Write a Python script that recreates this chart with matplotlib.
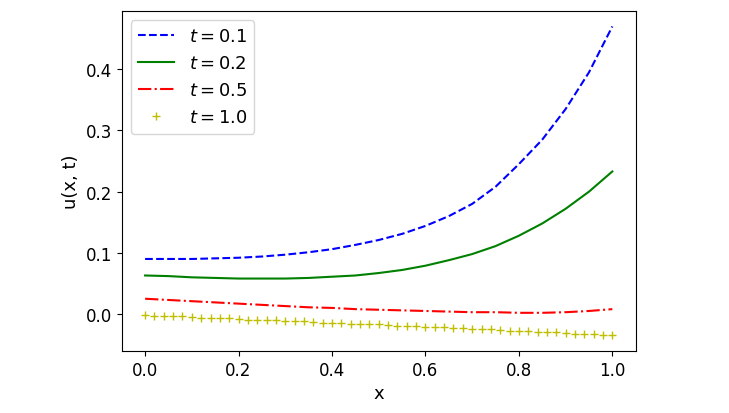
import matplotlib.pyplot as plt

# values
x = [i / 20 for i in range(21)]
u_01 = [0.090, 0.090, 0.090, 0.091, 0.092, 0.094, 0.097, 0.101, 0.106, 0.113, 0.121,
        0.131, 0.144, 0.160, 0.180, 0.208, 0.245, 0.285, 0.335, 0.395, 0.470]
u_02 = [0.063, 0.062, 0.060, 0.059, 0.058, 0.058, 0.058, 0.059, 0.061, 0.063, 0.067,
        0.072, 0.079, 0.088, 0.098, 0.111, 0.128, 0.148, 0.172, 0.200, 0.233]
u_05 = [0.025, 0.023, 0.021, 0.019, 0.017, 0.015, 0.013, 0.011, 0.010, 0.008, 0.007,
        0.006, 0.005, 0.004, 0.003, 0.003, 0.002, 0.002, 0.003, 0.005, 0.008]

x_10 = [i / 50 for i in range(51)]
u_10 = [-0.002, -0.003, -0.003, -0.004, -0.004, -0.005, -0.006, -0.006, -0.007, -0.007,
        -0.008, -0.009, -0.009, -0.010, -0.010, -0.011, -0.012, -0.012, -0.013, -0.014,
        -0.014, -0.015, -0.016, -0.016, -0.017, -0.017, -0.018, -0.019, -0.019, -0.020,
        -0.021, -0.021, -0.022, -0.023, -0.023, -0.024, -0.025, -0.025, -0.026, -0.027,
        -0.027, -0.028, -0.029, -0.030, -0.030, -0.031, -0.032, -0.033, -0.033, -0.034,
        -0.035]

fig, ax = plt.subplots(figsize=(7.29, 4.14), dpi=100)
fig.subplots_adjust(left=0.167, right=0.872, top=0.971, bottom=0.15)

ax.plot(x, u_01, 'b--', label=r'$t = 0.1$')
ax.plot(x, u_02, 'g-', label=r'$t = 0.2$')
ax.plot(x, u_05, 'r-.', label=r'$t = 0.5$')
ax.plot(x_10, u_10, 'y+', label=r'$t = 1.0$')

ax.set_xlabel('x', fontsize=13)
ax.set_ylabel('u(x, t)', fontsize=13)
ax.tick_params(labelsize=12)
ax.legend(fontsize=13, loc='upper left')

plt.savefig('out.png', dpi=100)
